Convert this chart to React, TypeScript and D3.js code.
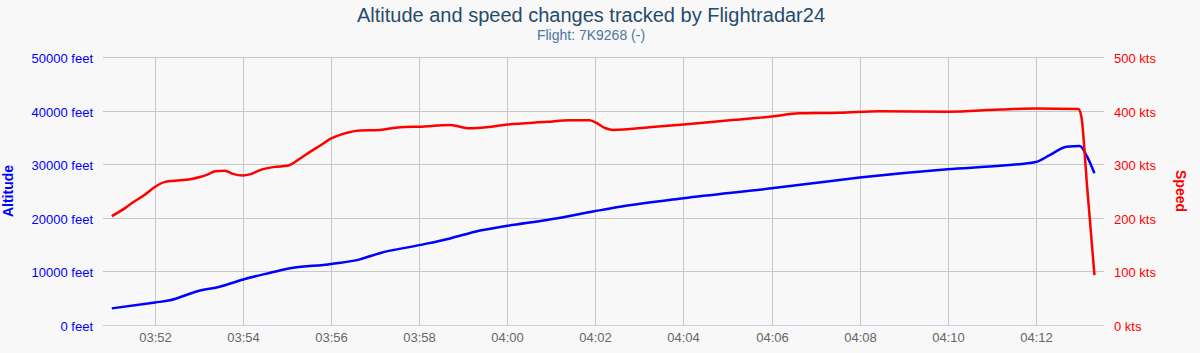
import { useRef, useEffect } from "react";
import * as d3 from "d3";

const altTimes = [
  "03:51:01", "03:52:00", "03:52:20", "03:53:00", "03:53:28", "03:54:00", "03:54:37",
  "03:54:57", "03:56:00", "03:56:39", "03:57:06", "03:58:00", "03:58:42", "03:59:16",
  "04:00:00", "04:00:54", "04:02:00", "04:02:29", "04:04:00", "04:06:00", "04:06:56",
  "04:08:00", "04:10:00", "04:11:15", "04:12:00", "04:12:19", "04:12:42", "04:13:00",
  "04:13:10", "04:13:20",
];
const altitudeFeet = [
  3100, 4200, 4600, 6400, 7150, 8500, 9750,
  10400, 11400, 12250, 13400, 14900, 16150, 17400,
  18500, 19600, 21250, 21950, 23650, 25500, 26450,
  27500, 29050, 29750, 30400, 31700, 33250, 33400,
  31400, 28300,
];

const speedTimes = [
  "03:51:01", "03:51:19", "03:51:29", "03:51:46", "03:52:00", "03:52:14", "03:52:27",
  "03:52:48", "03:53:01", "03:53:12", "03:53:22", "03:53:35", "03:53:46", "03:54:00",
  "03:54:09", "03:54:23", "03:54:43", "03:55:00", "03:55:18", "03:55:31", "03:55:45",
  "03:56:00", "03:56:15", "03:56:39", "03:57:06", "03:57:34", "03:58:00", "03:58:42",
  "03:59:09", "03:59:32", "04:00:00", "04:00:54", "04:01:25", "04:01:52", "04:02:00",
  "04:02:14", "04:02:24", "04:03:14", "04:04:00", "04:05:03", "04:06:00", "04:06:38",
  "04:07:33", "04:08:27", "04:10:00", "04:11:11", "04:12:00", "04:12:58", "04:13:02",
  "04:13:10", "04:13:20",
];
const speedKts = [
  203, 218, 228, 243, 258, 267, 269,
  272, 276, 281, 287, 288, 282, 279,
  281, 289, 295, 297, 311, 323, 335,
  348, 356, 363, 364, 369, 370, 373,
  367, 369, 374, 379, 382, 382, 378,
  367, 364, 369, 374, 382, 389, 395,
  396, 399, 398, 402, 404, 403, 390,
  258, 93,
];

const altTicks = [0, 10000, 20000, 30000, 40000, 50000];
const speedTicks = [0, 100, 200, 300, 400, 500];

const FONT = "'Liberation Sans', Arial, Helvetica, sans-serif";

function toDate(s: string) {
  const [h, m, sec] = s.split(":").map(Number);
  return new Date(2000, 0, 1, h, m, sec);
}

export default function App() {
  const svgRef = useRef<SVGSVGElement>(null);

  useEffect(() => {
    if (!svgRef.current) return;
    const width = 1200;
    const height = 353;
    const left = 103;
    const right = 1104;
    const top = 57;
    const bottom = 325;

    const svg = d3.select(svgRef.current);
    svg.selectAll("*").remove();

    svg.append("rect").attr("width", width).attr("height", height).attr("fill", "#f8f8f8");

    const x = d3
      .scaleTime()
      .domain([toDate("03:50:49"), toDate("04:13:33")])
      .range([left, right]);
    const yAlt = d3.scaleLinear().domain([0, 50000]).range([bottom, top]);
    const ySpd = d3.scaleLinear().domain([0, 500]).range([bottom, top]);

    // title
    svg
      .append("text")
      .attr("x", 591)
      .attr("y", 22)
      .attr("text-anchor", "middle")
      .attr("fill", "#274b6d")
      .attr("font-size", 20)
      .attr("font-family", FONT)
      .text("Altitude and speed changes tracked by Flightradar24");
    svg
      .append("text")
      .attr("x", 591)
      .attr("y", 40)
      .attr("text-anchor", "middle")
      .attr("fill", "#4d759e")
      .attr("font-size", 14)
      .attr("font-family", FONT)
      .text("Flight: 7K9268 (-)");

    // horizontal grid
    const grid = svg.append("g");
    altTicks.forEach((t) => {
      grid
        .append("line")
        .attr("x1", left)
        .attr("x2", right)
        .attr("y1", Math.round(yAlt(t)) + 0.5)
        .attr("y2", Math.round(yAlt(t)) + 0.5)
        .attr("stroke", t === 0 ? "#c0d0e0" : "#c8c8c8")
        .attr("stroke-width", 1);
    });

    // vertical grid + x labels
    const xTicks = x.ticks(d3.timeMinute.every(2)!);
    const fmt = d3.timeFormat("%H:%M");
    xTicks.forEach((t) => {
      const px = Math.round(x(t)) + 0.5;
      grid
        .append("line")
        .attr("x1", px)
        .attr("x2", px)
        .attr("y1", top)
        .attr("y2", bottom)
        .attr("stroke", "#c8c8c8");
      svg
        .append("text")
        .attr("x", px)
        .attr("y", 342)
        .attr("text-anchor", "middle")
        .attr("fill", "#666")
        .attr("font-size", 13)
        .attr("font-family", FONT)
        .text(fmt(t));
    });

    // axis labels
    altTicks.forEach((t) => {
      svg
        .append("text")
        .attr("x", 93)
        .attr("y", yAlt(t) + 6)
        .attr("text-anchor", "end")
        .attr("fill", "#0000ff")
        .attr("font-size", 13)
        .attr("font-family", FONT)
        .text(`${t} feet`);
    });
    speedTicks.forEach((t) => {
      svg
        .append("text")
        .attr("x", 1114)
        .attr("y", ySpd(t) + 6)
        .attr("text-anchor", "start")
        .attr("fill", "#ff0000")
        .attr("font-size", 13)
        .attr("font-family", FONT)
        .text(`${t} kts`);
    });

    svg
      .append("text")
      .attr("transform", `translate(13,${(top + bottom) / 2}) rotate(-90)`)
      .attr("text-anchor", "middle")
      .attr("fill", "#0000ff")
      .attr("font-size", 14)
      .attr("font-weight", "bold")
      .attr("font-family", FONT)
      .text("Altitude");
    svg
      .append("text")
      .attr("transform", `translate(1176,${(top + bottom) / 2}) rotate(90)`)
      .attr("text-anchor", "middle")
      .attr("fill", "#ff0000")
      .attr("font-size", 14)
      .attr("font-weight", "bold")
      .attr("font-family", FONT)
      .text("Speed");

    // series
    const altLine = d3
      .line<number>()
      .x((_, i) => x(toDate(altTimes[i])))
      .y((d) => yAlt(d))
      .curve(d3.curveMonotoneX);
    const spdLine = d3
      .line<number>()
      .x((_, i) => x(toDate(speedTimes[i])))
      .y((d) => ySpd(d))
      .curve(d3.curveMonotoneX);

    svg
      .append("path")
      .attr("d", altLine(altitudeFeet))
      .attr("fill", "none")
      .attr("stroke", "#0000ff")
      .attr("stroke-width", 2.5)
      .attr("stroke-linejoin", "round");
    svg
      .append("path")
      .attr("d", spdLine(speedKts))
      .attr("fill", "none")
      .attr("stroke", "#ff0000")
      .attr("stroke-width", 2.5)
      .attr("stroke-linejoin", "round");
  }, []);

  return (
    <div style={{ position: "absolute", left: 0, top: 0 }}>
      <svg ref={svgRef} width={1200} height={353} style={{ display: "block" }} />
    </div>
  );
}
